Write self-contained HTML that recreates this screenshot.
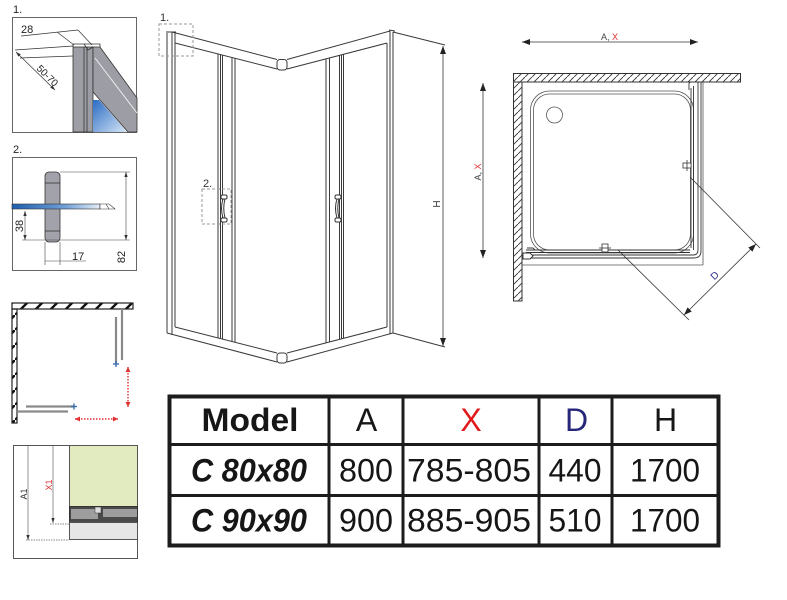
<!DOCTYPE html>
<html>
<head>
<meta charset="utf-8">
<style>
  html,body{margin:0;padding:0;background:#fff;}
  svg{display:block;}
  text{font-family:"Liberation Sans",sans-serif;}
</style>
</head>
<body>
<svg width="787" height="600" viewBox="0 0 787 600" xmlns="http://www.w3.org/2000/svg">
  <defs>
    <pattern id="hatch" patternUnits="userSpaceOnUse" width="7" height="7">
      <line x1="-1" y1="8" x2="8" y2="-1" stroke="#333" stroke-width="0.9"/>
    </pattern>
    <pattern id="hatch2" patternUnits="userSpaceOnUse" width="15" height="15">
      <line x1="-2" y1="17" x2="17" y2="-2" stroke="#111" stroke-width="2.4"/>
    </pattern>
    <linearGradient id="blueg" x1="0" y1="0" x2="1" y2="1">
      <stop offset="0" stop-color="#2a6cc4"/>
      <stop offset="1" stop-color="#d6e6f6"/>
    </linearGradient>
    <linearGradient id="blueh" x1="0" y1="0" x2="1" y2="0">
      <stop offset="0" stop-color="#1f5fae"/>
      <stop offset="0.6" stop-color="#6f9fd6"/>
      <stop offset="1" stop-color="#e4eef9"/>
    </linearGradient>
    <marker id="arr" viewBox="0 0 8 6" refX="8" refY="3" markerWidth="8" markerHeight="6" markerUnits="userSpaceOnUse" orient="auto-start-reverse">
      <path d="M0,0 L8,3 L0,6 z" fill="#222"/>
    </marker>
    <marker id="arrs" viewBox="0 0 6 4" refX="6" refY="2" markerWidth="5" markerHeight="4" markerUnits="userSpaceOnUse" orient="auto-start-reverse">
      <path d="M0,0 L6,2 L0,4 z" fill="#333"/>
    </marker>
    <marker id="arrr" viewBox="0 0 6 6" refX="6" refY="3" markerWidth="5" markerHeight="5" markerUnits="userSpaceOnUse" orient="auto-start-reverse">
      <path d="M0,0 L6,3 L0,6 z" fill="#e03030"/>
    </marker>
  </defs>

  <!-- ============ DETAIL 1 ============ -->
  <text x="13" y="13" font-size="11" fill="#222">1.</text>
  <rect x="12.5" y="17.5" width="124" height="115" fill="#fff" stroke="#666" stroke-width="1"/>
  <g stroke="#333" stroke-width="0.8">
    <rect x="73" y="47" width="20" height="85" fill="#9d9da5"/>
    <line x1="84" y1="47" x2="84" y2="132"/>
    <line x1="87" y1="47" x2="87" y2="132"/>
    <polygon points="93,47 100,47 137,98 137,132 128,132 93,92" fill="#9d9da5"/>
    <line x1="95" y1="58" x2="137" y2="113" stroke="#eee" stroke-width="1"/>
    <polygon points="93,100 99,100 127,132 93,132" fill="url(#blueg)" stroke="none"/>
    <path d="M73,47 L73,44 L100,44 L100,47 M84,44 L88,50 L93,47" fill="none"/>
  </g>
  <g stroke="#333" stroke-width="0.7" fill="none">
    <line x1="21" y1="36" x2="78" y2="30"/>
    <line x1="57" y1="32" x2="74" y2="45"/>
    <line x1="78" y1="30" x2="92" y2="45"/>
    <line x1="15" y1="50" x2="73" y2="46"/>
    <line x1="20" y1="58" x2="73" y2="56"/>
    <line x1="16" y1="52" x2="55" y2="90" marker-start="url(#arrs)" marker-end="url(#arrs)"/>
  </g>
  <text x="21" y="33" font-size="11" fill="#222">28</text>
  <text transform="translate(36,69) rotate(45)" font-size="10" fill="#222">50-70</text>

  <!-- ============ DETAIL 2 ============ -->
  <text x="13" y="153" font-size="11" fill="#222">2.</text>
  <rect x="12.5" y="157.5" width="124" height="113" fill="#fff" stroke="#666" stroke-width="1"/>
  <rect x="45" y="172" width="15" height="70" rx="4" fill="#a2a2aa" stroke="#333" stroke-width="0.8"/>
  <line x1="45" y1="183" x2="60" y2="183" stroke="#333" stroke-width="0.8"/>
  <line x1="45" y1="231" x2="60" y2="231" stroke="#333" stroke-width="0.8"/>
  <rect x="12" y="204" width="88" height="5" fill="url(#blueh)" stroke="#333" stroke-width="0.6"/>
  <path d="M100,204 L109,204 L115,209 L100,209 Z" fill="#fff" stroke="#333" stroke-width="0.6"/>
  <path d="M106,204 L109,209" stroke="#333" stroke-width="0.6"/>
  <g stroke="#444" stroke-width="0.6" fill="none">
    <line x1="60" y1="172" x2="130" y2="172"/>
    <line x1="22" y1="240" x2="130" y2="240"/>
    <line x1="126" y1="172" x2="126" y2="240" marker-start="url(#arrs)" marker-end="url(#arrs)"/>
    <line x1="25" y1="211" x2="25" y2="240" marker-start="url(#arrs)" marker-end="url(#arrs)"/>
    <line x1="45" y1="242" x2="45" y2="265"/>
    <line x1="60" y1="242" x2="60" y2="265"/>
    <line x1="45" y1="261" x2="86" y2="261"/>
  </g>
  <text transform="translate(125,257) rotate(-90)" font-size="11" fill="#222" text-anchor="middle">82</text>
  <text transform="translate(23,226) rotate(-90)" font-size="11" fill="#222" text-anchor="middle">38</text>
  <text x="72" y="260" font-size="11" fill="#222">17</text>

  <!-- ============ DETAIL 3 ============ -->
  <rect x="12" y="303" width="121" height="6" fill="url(#hatch2)" stroke="#222" stroke-width="1.2"/>
  <rect x="12" y="309" width="5" height="114" fill="url(#hatch2)" stroke="#222" stroke-width="1.2"/>
  <g stroke="#8a8a8a" stroke-width="2.2">
    <line x1="122" y1="309" x2="122" y2="360"/>
    <line x1="116" y1="317" x2="116" y2="363"/>
    <line x1="26" y1="406.5" x2="74" y2="406.5"/>
    <line x1="17" y1="411.5" x2="68" y2="411.5"/>
  </g>
  <g stroke="#3a6db0" stroke-width="1.4">
    <line x1="113" y1="364" x2="119" y2="364"/><line x1="116" y1="361" x2="116" y2="367"/>
    <line x1="71" y1="406.5" x2="77" y2="406.5"/><line x1="74" y1="403.5" x2="74" y2="409.5"/>
  </g>
  <g stroke="#e03030" stroke-width="1.4" stroke-dasharray="1.5,1.5" fill="none">
    <line x1="128" y1="367" x2="128" y2="407" marker-start="url(#arrr)" marker-end="url(#arrr)"/>
    <line x1="75" y1="419" x2="118" y2="419" marker-start="url(#arrr)" marker-end="url(#arrr)"/>
  </g>

  <!-- ============ DETAIL 4 ============ -->
  <rect x="13.5" y="445.5" width="124" height="113" fill="#fff" stroke="#555" stroke-width="1"/>
  <rect x="69.5" y="445.5" width="68" height="61" fill="#e2ebbf" stroke="#555" stroke-width="1"/>
  <rect x="69.5" y="506.5" width="68" height="16" fill="#4a4a4a" stroke="#333" stroke-width="1"/>
  <rect x="71" y="509" width="27" height="10" fill="#9d9d9d"/>
  <rect x="103" y="509" width="34" height="8" fill="#9d9d9d"/>
  <rect x="95" y="507" width="6" height="6" fill="#ddd" stroke="#333" stroke-width="0.5"/>
  <rect x="69.5" y="522.5" width="68" height="17" fill="#e6e6e6" stroke="#555" stroke-width="1"/>
  <g stroke="#666" stroke-width="0.7" fill="none">
    <line x1="53" y1="446" x2="53" y2="523" marker-end="url(#arrs)"/>
    <line x1="28" y1="446" x2="28" y2="540" marker-end="url(#arrs)"/>
    <line x1="50" y1="524" x2="69" y2="524" stroke-dasharray="1.5,1"/>
    <line x1="26" y1="540" x2="69" y2="540" stroke-dasharray="1.5,1"/>
  </g>
  <text transform="translate(27,494) rotate(-90)" font-size="9" fill="#333" text-anchor="middle">A1</text>
  <text transform="translate(52,485) rotate(-90)" font-size="9" fill="#e03030" text-anchor="middle">X1</text>

  <!-- ============ MIDDLE 3D VIEW ============ -->
  <text x="160" y="21" font-size="11" fill="#333">1.</text>
  <text x="203" y="187" font-size="11" fill="#333">2.</text>
  <g stroke="#3a3a3a" stroke-width="1" fill="none">
    <line x1="167" y1="33" x2="167" y2="333"/>
    <line x1="172" y1="32" x2="172" y2="335"/>
    <line x1="175" y1="33" x2="175" y2="327"/>
    <line x1="166" y1="32" x2="176" y2="32"/>
    <line x1="172" y1="32" x2="277" y2="59.5"/>
    <line x1="175" y1="43" x2="277" y2="69"/>
    <rect x="277" y="59.5" width="10" height="10.5" rx="3"/>
    <line x1="287" y1="59.5" x2="390" y2="31"/>
    <line x1="287" y1="69" x2="387" y2="43"/>
    <line x1="387" y1="43" x2="387" y2="327"/>
    <line x1="390" y1="31" x2="390" y2="334"/>
    <line x1="393" y1="32" x2="393" y2="333"/>
    <line x1="389" y1="30" x2="395" y2="31"/>
    <line x1="393" y1="32" x2="445" y2="45"/>
    <line x1="393" y1="333" x2="445" y2="347"/>
    <line x1="175" y1="327" x2="277" y2="353"/>
    <line x1="167" y1="333" x2="277" y2="362"/>
    <rect x="277" y="353" width="10" height="10" rx="3"/>
    <line x1="287" y1="353" x2="387" y2="327"/>
    <line x1="287" y1="362" x2="393" y2="333"/>
    <line x1="218" y1="54" x2="218" y2="338"/>
    <line x1="220.5" y1="54.5" x2="220.5" y2="338.5"/>
    <line x1="222.5" y1="55" x2="222.5" y2="339"/>
    <line x1="232" y1="57.5" x2="232" y2="341.5"/>
    <line x1="235" y1="58" x2="235" y2="342"/>
    <line x1="326" y1="59" x2="326" y2="343"/>
    <line x1="329.5" y1="58" x2="329.5" y2="342"/>
    <line x1="339.5" y1="55.5" x2="339.5" y2="339.5"/>
    <line x1="341.5" y1="55" x2="341.5" y2="339"/>
    <line x1="343.5" y1="54.5" x2="343.5" y2="338.5"/>
  </g>
  <g stroke="#333" stroke-width="1" fill="#fff">
    <rect x="221" y="195" width="6" height="4" rx="1.5"/>
    <rect x="221" y="218" width="6" height="4" rx="1.5"/>
    <path d="M223,199 Q220,208 223,218 L225,218 Q222.5,208 225,199 Z"/>
    <rect x="335" y="195" width="6" height="4" rx="1.5"/>
    <rect x="335" y="218" width="6" height="4" rx="1.5"/>
    <path d="M337,199 Q334,208 337,218 L339,218 Q336.5,208 339,199 Z"/>
  </g>
  <rect x="159" y="24" width="34" height="32" fill="none" stroke="#999" stroke-width="1" stroke-dasharray="3,2"/>
  <rect x="202" y="189" width="29" height="35" fill="none" stroke="#999" stroke-width="1" stroke-dasharray="3,2"/>
  <line x1="443" y1="46" x2="443" y2="346" stroke="#333" stroke-width="0.8" marker-start="url(#arr)" marker-end="url(#arr)"/>
  <text transform="translate(440,204) rotate(-90)" font-size="10" fill="#333" text-anchor="middle">H</text>

  <!-- ============ RIGHT PLAN VIEW ============ -->
  <line x1="522" y1="42" x2="698" y2="42" stroke="#333" stroke-width="0.8" marker-start="url(#arr)" marker-end="url(#arr)"/>
  <text x="601" y="40" font-size="9" fill="#444">A, <tspan fill="#e03030">X</tspan></text>
  <line x1="483" y1="83" x2="483" y2="258" stroke="#333" stroke-width="0.8" marker-start="url(#arr)" marker-end="url(#arr)"/>
  <text transform="translate(481,172) rotate(-90)" font-size="9" fill="#444" text-anchor="middle">A, <tspan fill="#e03030">X</tspan></text>

  <rect x="513.5" y="73.5" width="227" height="8.5" fill="url(#hatch)" stroke="#333" stroke-width="1"/>
  <rect x="513.5" y="82" width="8.5" height="219" fill="url(#hatch)" stroke="#333" stroke-width="1"/>
  <g stroke="#555" stroke-width="0.8" fill="none">
    <line x1="522" y1="265" x2="703" y2="265"/>
    <line x1="703" y1="82" x2="703" y2="265"/>
    <rect x="530.5" y="91" width="163" height="162" rx="19"/>
    <rect x="533.5" y="94" width="157" height="156" rx="16"/>
    <circle cx="554.5" cy="115" r="8"/>
  </g>
  <g stroke="#333" stroke-width="0.9" fill="none">
    <line x1="691" y1="88" x2="691" y2="248"/>
    <line x1="693.5" y1="86" x2="693.5" y2="250"/>
    <path d="M698,82 L698,250 Q698,255 693,255 L522,255"/>
    <path d="M701,82 L701,251 Q701,258 694,258 L522,258"/>
    <line x1="526" y1="250" x2="690" y2="250"/>
    <line x1="526" y1="252.5" x2="690" y2="252.5"/>
    <path d="M689,90 L689,84 Q689,82 691,82 L698,82"/>
    <path d="M523,253 L530,253 L533,256 L530,259 L523,259 Z" fill="#fff"/>
    <path d="M527,248 L533,248 L535,250" />
  </g>
  <g stroke="#333" stroke-width="0.8" fill="#fff">
    <rect x="683" y="163" width="8" height="5"/>
    <line x1="687" y1="160" x2="687" y2="171"/>
    <rect x="602" y="244" width="6" height="8"/>
    <line x1="599" y1="248" x2="611" y2="248"/>
  </g>
  <g stroke="#333" stroke-width="0.8" fill="none">
    <line x1="690" y1="177" x2="760" y2="248"/>
    <line x1="618" y1="250" x2="689" y2="320"/>
    <line x1="756" y1="244" x2="684" y2="315" marker-start="url(#arr)" marker-end="url(#arr)"/>
  </g>
  <text transform="translate(717,278) rotate(-44)" font-size="10" fill="#2b2b8a" text-anchor="middle">D</text>

  <!-- ============ TABLE ============ -->
  <rect x="169.5" y="396.5" width="549" height="149" fill="#fff" stroke="#1c1c1c" stroke-width="4"/>
  <g stroke="#1c1c1c" stroke-width="3">
    <line x1="169" y1="444.5" x2="719" y2="444.5"/>
    <line x1="169" y1="495.5" x2="719" y2="495.5"/>
    <line x1="329" y1="396" x2="329" y2="546"/>
    <line x1="403" y1="396" x2="403" y2="546"/>
    <line x1="539" y1="396" x2="539" y2="546"/>
    <line x1="612" y1="396" x2="612" y2="546"/>
  </g>
  <g font-size="32" fill="#161616" text-anchor="middle">
    <text x="250" y="431" font-weight="bold" textLength="97" lengthAdjust="spacingAndGlyphs">Model</text>
    <text x="366.5" y="431">A</text>
    <text x="471" y="431" fill="#e01a1a">X</text>
    <text x="576.5" y="431" fill="#26267a">D</text>
    <text x="665.5" y="431">H</text>

    <text x="249" y="481.5" font-weight="bold" font-style="italic" textLength="116" lengthAdjust="spacingAndGlyphs">C 80x80</text>
    <text x="366" y="481.5" textLength="54" lengthAdjust="spacingAndGlyphs">800</text>
    <text x="469" y="481.5" textLength="124" lengthAdjust="spacingAndGlyphs">785-805</text>
    <text x="575" y="481.5" textLength="53" lengthAdjust="spacingAndGlyphs">440</text>
    <text x="665" y="481.5" textLength="70" lengthAdjust="spacingAndGlyphs">1700</text>

    <text x="249" y="531.5" font-weight="bold" font-style="italic" textLength="116" lengthAdjust="spacingAndGlyphs">C 90x90</text>
    <text x="366" y="531.5" textLength="54" lengthAdjust="spacingAndGlyphs">900</text>
    <text x="469" y="531.5" textLength="124" lengthAdjust="spacingAndGlyphs">885-905</text>
    <text x="575" y="531.5" textLength="53" lengthAdjust="spacingAndGlyphs">510</text>
    <text x="665" y="531.5" textLength="70" lengthAdjust="spacingAndGlyphs">1700</text>
  </g>
</svg>
</body>
</html>
